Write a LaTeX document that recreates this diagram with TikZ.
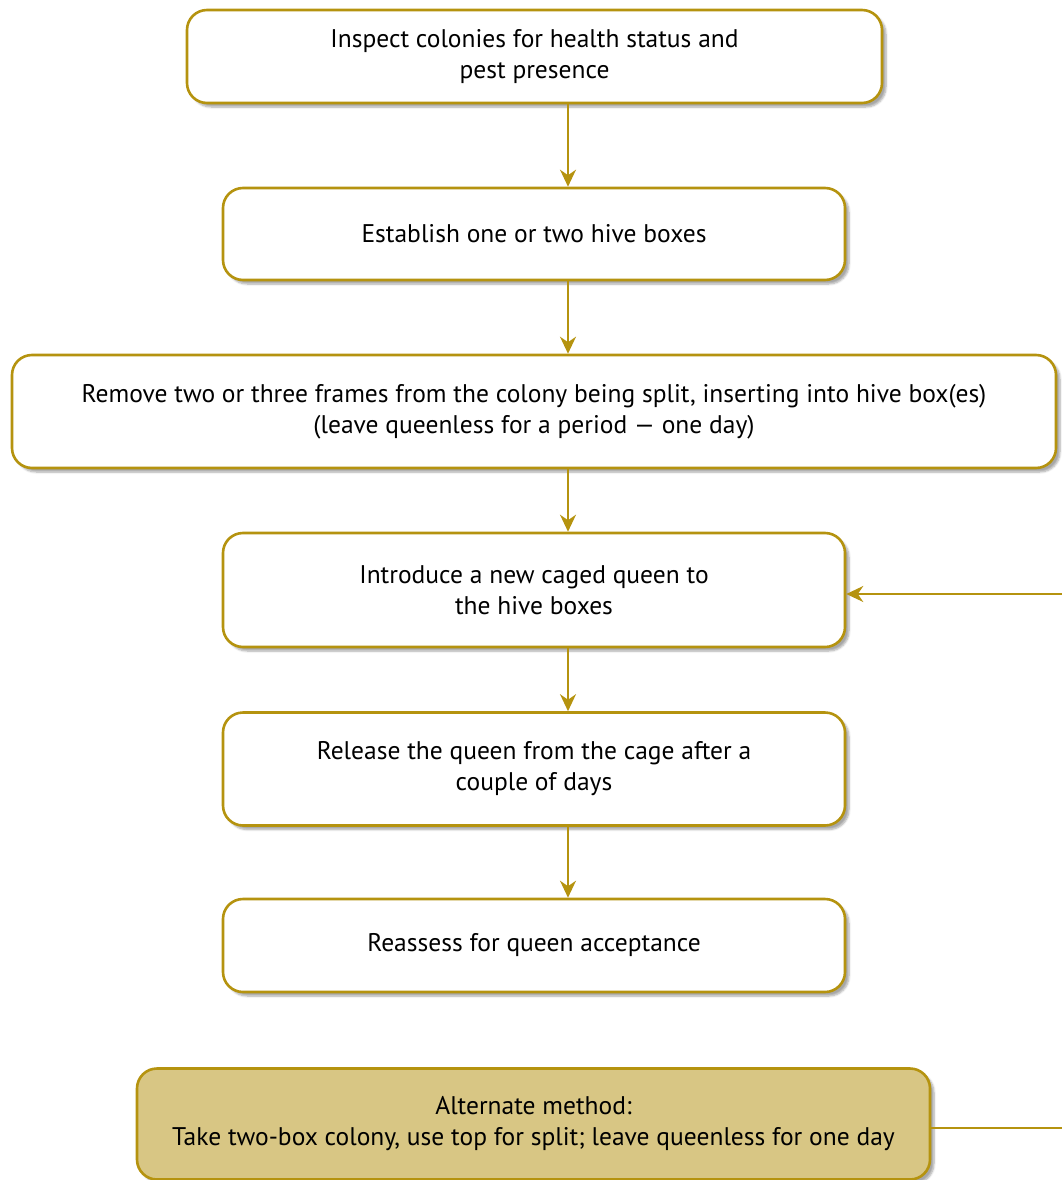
\documentclass[tikz,border=0pt]{standalone}
\usepackage{fontspec}
\setmainfont{PT Sans}
\usetikzlibrary{arrows.meta,shadows.blur}
\definecolor{gold}{HTML}{B5930F}
\definecolor{tan}{HTML}{D8C684}
\tikzset{
  stepbox/.style={draw=gold, line width=2.6pt, rounded corners=20pt, fill=white,
    align=center, inner sep=0pt, font=\fontsize{25.5}{31}\selectfont,
    blur shadow={shadow xshift=4pt, shadow yshift=-4pt, shadow blur steps=6, shadow opacity=35}},
  altbox/.style={stepbox, fill=tan},
  conn/.style={draw=gold, line width=2pt, -{Stealth[length=17pt,width=16pt]}},
  fbconn/.style={draw=gold, line width=1.6pt, -{Stealth[length=17pt,width=16pt]}}
}
\begin{document}
\begin{tikzpicture}[x=1pt,y=-1pt]
\useasboundingbox (0,0) rectangle (1062,1180);
\node[stepbox, minimum width=695pt, minimum height=93pt] (b1) at (534.5,56.5)
  {Inspect colonies for health status and\\pest presence};
\node[stepbox, minimum width=622pt, minimum height=92pt] (b2) at (534,234)
  {Establish one or two hive boxes};
\node[stepbox, minimum width=1044pt, minimum height=113pt] (b3) at (534,411.5)
  {Remove two or three frames from the colony being split, inserting into hive box(es)\\(leave queenless for a period --- one day)};
\node[stepbox, minimum width=622pt, minimum height=114pt] (b4) at (534,590)
  {Introduce a new caged queen to\\the hive boxes};
\node[stepbox, minimum width=622pt, minimum height=113pt] (b5) at (534,769)
  {Release the queen from the cage after a\\couple of days};
\node[stepbox, minimum width=622pt, minimum height=93pt] (b6) at (534,945.5)
  {Reassess for queen acceptance};
\node[altbox, minimum width=793pt, minimum height=111pt] (b7) at (533.5,1124)
  {Alternate method:\\Take two-box colony, use top for split; leave queenless for one day};
\coordinate (c1) at (1070,1128);
\coordinate (c2) at (1070,594);
\draw[conn] (b1.south -| 568,0) -- (b2.north -| 568,0);
\draw[conn] (b2.south -| 568,0) -- (b3.north -| 568,0);
\draw[conn] (b3.south -| 568,0) -- (b4.north -| 568,0);
\draw[conn] (b4.south -| 568,0) -- (b5.north -| 568,0);
\draw[conn] (b5.south -| 568,0) -- (b6.north -| 568,0);
\draw[fbconn] (b7.east |- c1) -- (c1) -- (c2) -- (b4.east |- c2);
\end{tikzpicture}
\end{document}
